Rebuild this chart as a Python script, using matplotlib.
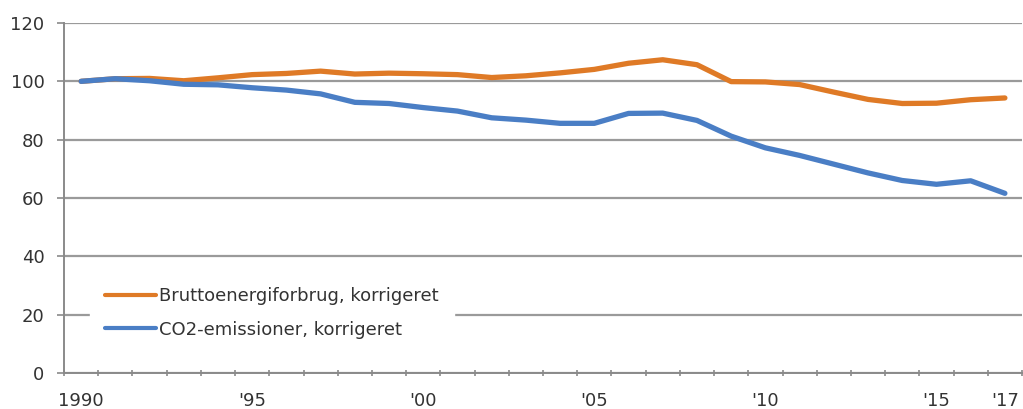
import matplotlib
matplotlib.use("Agg")
import matplotlib.pyplot as plt
import numpy as np
from matplotlib.ticker import FixedLocator

years = list(range(1990, 2018))
brutto = [100.0, 100.9, 101.0, 100.2, 101.2, 102.3, 102.7, 103.5, 102.5, 102.8,
          102.6, 102.3, 101.3, 101.9, 102.9, 104.1, 106.2, 107.4, 105.7, 99.9,
          99.8, 98.9, 96.3, 93.8, 92.4, 92.5, 93.7, 94.3]
co2 = [100.0, 100.9, 100.2, 99.0, 98.8, 97.8, 97.0, 95.7, 92.8, 92.4,
       91.0, 89.8, 87.5, 86.7, 85.6, 85.6, 89.0, 89.1, 86.6, 81.2,
       77.2, 74.6, 71.6, 68.6, 66.0, 64.7, 65.9, 61.6]
label_brutto = "Bruttoenergiforbrug, korrigeret"
label_co2 = "CO2-emissioner, korrigeret"
xtick_labels = {1990: "1990", 1995: "'95", 2000: "'00", 2005: "'05",
                2010: "'10", 2015: "'15", 2017: "'17"}
yticks = [0, 20, 40, 60, 80, 100, 120]

plt.rcParams['font.family'] = ['DejaVu Sans']
fig = plt.figure(figsize=(10.23, 4.09), dpi=100)
ax = fig.add_axes([64/1023, 1-373/409, (1022-64)/1023, (373-23)/409])

x = np.arange(len(years))
ax.plot(x, brutto, color="#DF7A26", lw=3.8, solid_capstyle="round", label=label_brutto, zorder=3)
ax.plot(x, co2, color="#4A7EC5", lw=3.8, solid_capstyle="round", label=label_co2, zorder=3)

ax.set_xlim(-0.5, len(years) - 0.5)
ax.set_ylim(0, 120)
ax.set_yticks(yticks)
ax.yaxis.grid(True, color="#9a9a9a", lw=1.6)
ax.set_axisbelow(True)

pos = [years.index(y) for y in xtick_labels]
ax.set_xticks(pos)
ax.set_xticklabels(list(xtick_labels.values()))
ax.xaxis.set_minor_locator(FixedLocator(np.arange(-0.5, len(years), 1.0)))
ax.tick_params(axis='x', which='major', length=0, pad=14, labelsize=13, labelcolor="#333333")
ax.tick_params(axis='x', which='minor', length=5, direction='inout', color="#8a8a8a", width=1.2)
ax.tick_params(axis='y', length=5, color="#8a8a8a", width=1.2, labelsize=13, labelcolor="#333333", pad=9)

for s in ['top', 'right']:
    ax.spines[s].set_visible(False)
for s in ['left', 'bottom']:
    ax.spines[s].set_color("#8a8a8a")
    ax.spines[s].set_linewidth(1.4)

leg = ax.legend(loc='lower left', bbox_to_anchor=(0.027, 0.054), frameon=True,
                fancybox=False, framealpha=1, edgecolor='white', facecolor='white',
                fontsize=13, handlelength=2.8, handletextpad=0.17, labelspacing=0.85,
                borderpad=0.85, borderaxespad=0)
for t in leg.get_texts():
    t.set_color("#333333")
for h in leg.get_lines():
    h.set_linewidth(3)

fig.savefig("out.png", dpi=100, facecolor="white")
